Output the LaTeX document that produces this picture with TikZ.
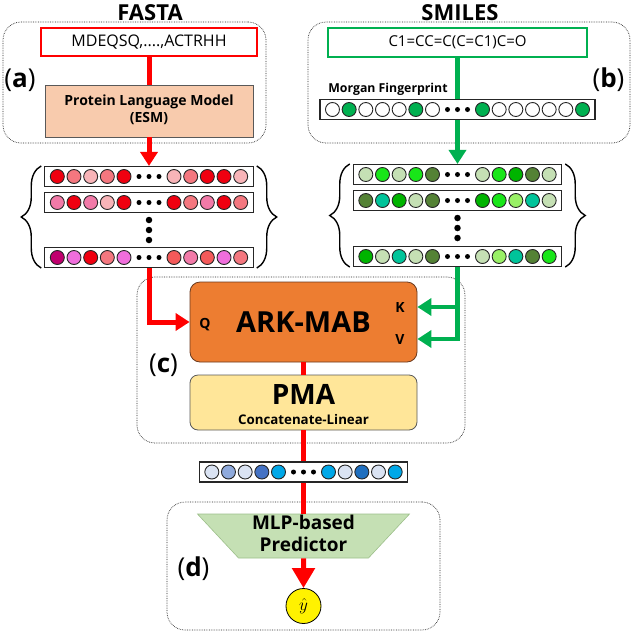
\documentclass[tikz,border=0pt]{standalone}
\usepackage{fontspec}
\setmainfont{Open Sans}
\usepackage{tikz}
\usetikzlibrary{arrows.meta,calc,positioning,shapes.geometric,decorations.pathreplacing}

% colours
\definecolor{arkred}{HTML}{FF0000}
\definecolor{arkgreen}{HTML}{00B050}
\definecolor{plmfill}{HTML}{F8CBAD}
\definecolor{mabfill}{HTML}{ED7D31}
\definecolor{mabedge}{HTML}{6B3A1E}
\definecolor{pmafill}{HTML}{FFE699}
\definecolor{mlpfill}{HTML}{C5E0B4}
\definecolor{mlpedge}{HTML}{9DBF8A}
\definecolor{redA}{HTML}{F00010}
\definecolor{redB}{HTML}{F4777F}
\definecolor{redC}{HTML}{F8B4B8}
\definecolor{redD}{HTML}{F27AA8}
\definecolor{redE}{HTML}{C0006E}
\definecolor{redF}{HTML}{F06EDC}
\definecolor{redG}{HTML}{F45A5A}
\definecolor{grnA}{HTML}{C5E0B4}
\definecolor{grnB}{HTML}{19E619}
\definecolor{grnC}{HTML}{548235}
\definecolor{grnD}{HTML}{00C49A}
\definecolor{grnE}{HTML}{00B400}
\definecolor{grnF}{HTML}{99F066}
\definecolor{fpgrn}{HTML}{00B050}
\definecolor{bluA}{HTML}{DAE3F3}
\definecolor{bluB}{HTML}{8FAADC}
\definecolor{bluC}{HTML}{4472C4}
\definecolor{bluD}{HTML}{00A8E8}
\definecolor{bluE}{HTML}{1F6FBF}

\tikzset{
  groupbox/.style={draw=black!85, densely dotted, line width=.7pt, rounded corners=18pt},
  title/.style={font=\fontsize{22}{26}\selectfont\bfseries},
  tag/.style={font=\fontsize{26}{30}\selectfont},
  port/.style={font=\fontsize{14}{16}\selectfont\bfseries},
  seqbox/.style={draw, line width=2.5pt, fill=white, inner sep=0pt,
    font=\fontsize{16}{19}\selectfont},
  plmbox/.style={fill=plmfill, draw=black!65, line width=.8pt, inner sep=0pt,
    minimum width=208pt, minimum height=52pt, font=\fontsize{14}{17}\selectfont\bfseries},
  mabbox/.style={rounded corners=10pt, fill=mabfill, draw=mabedge, line width=.8pt,
    minimum width=227pt, minimum height=80pt, font=\fontsize{29}{32}\selectfont\bfseries},
  pmabox/.style={rounded corners=8pt, fill=pmafill, draw=black!65, line width=.8pt,
    minimum width=227pt, minimum height=55pt},
  mlpbox/.style={trapezium, trapezium angle=47, shape border rotate=180,
    trapezium stretches body, minimum width=212pt, minimum height=44pt, inner sep=0pt,
    fill=mlpfill, draw=mlpedge, line width=.6pt, font=\fontsize{19}{22}\selectfont\bfseries},
  vecbox/.style={draw=black!85, line width=1.1pt, fill=white, minimum height=20pt, inner sep=0pt},
  cell/.style={circle, draw=black!85, line width=0.9pt, minimum size=14pt, inner sep=0pt},
  hdot/.style={circle, fill=black, minimum size=5pt, inner sep=0pt},
  vdot/.style={circle, fill=black, minimum size=6.5pt, inner sep=0pt},
  curly/.style={decorate, decoration={brace, amplitude=20pt}, line width=1.4pt},
  redline/.style={draw=arkred, line width=5pt},
  redarrow/.style={redline, ->},
  greenline/.style={draw=arkgreen, line width=4.5pt},
  greenarrow/.style={greenline, ->},
  bigarrow/.style={redline, -{Triangle[width=22pt,length=20pt]}},
}

% one embedding vector: name, centre, circles per side, left colours, right colours
\newcommand{\vecrow}[5]{%
  \pgfmathsetmacro{\roww}{75+33.34*(#3-1)}
  \node[vecbox, minimum width=\roww pt] (#1) at #2 {};
  \foreach \clr [count=\idx] in {#4}
    \node[cell, fill=\clr] (#1_L\idx) at ($(#1.center)+({-25-16.67*(#3-\idx)},0)$) {};
  \foreach \clr [count=\idx] in {#5}
    \node[cell, fill=\clr] (#1_R\idx) at ($(#1.center)+({25+16.67*(\idx-1)},0)$) {};
  \foreach \dx [count=\idx] in {-10,0,10}
    \node[hdot] (#1_D\idx) at ($(#1.center)+(\dx,0)$) {};
}

\begin{document}
\begin{tikzpicture}[x=1pt, y=-1pt, line join=miter,
    >={Triangle[width=17pt,length=14pt]}]
  \useasboundingbox (0,0) rectangle (633,633);

  % GROUP FRAMES
  \node[groupbox, minimum width=263pt, minimum height=121pt] (BOX_A) at (134.5,82.5) {};
  \node[groupbox, minimum width=322pt, minimum height=121pt] (BOX_B) at (469,82.5) {};
  \node[groupbox, minimum width=328pt, minimum height=166pt] (BOX_C) at (301,360) {};
  \node[groupbox, minimum width=273pt, minimum height=128pt] (BOX_D) at (303.5,566) {};

  \node[tag] (TAG_A) at (20,80) {(\textbf{a})};
  \node[tag] (TAG_B) at (608.5,80) {(\textbf{b})};
  \node[tag] (TAG_C) at (163.5,365) {(\textbf{c})};
  \node[tag] (TAG_D) at (193.5,569) {(\textbf{d})};

  % PROTEIN SIDE
  \node[title] (FASTA) at (150,13) {FASTA};
  \node[seqbox, draw=arkred, minimum width=216pt, minimum height=28pt] (FASTA_SEQ)
    at (149,42) {MDEQSQ,....,ACTRHH};
  \node[plmbox, below of=FASTA_SEQ, node distance=69pt] (PLM)
  {
    \begin{tabular}{c}
      Protein Language Model \\
      (ESM)
    \end{tabular}
  };

  \vecrow{RED_ROW_1}{(149,176.5)}{5}{redA,redB,redC,redB,redA}{redC,redB,redA,redA,redC}
  \vecrow{RED_ROW_2}{(149,202.5)}{5}{redD,redA,redD,redC,redA}{redA,redB,redD,redA,redB}
  \vecrow{RED_ROW_3}{(149,257.5)}{5}{redE,redF,redA,redB,redF}{redG,redD,redG,redF,redB}
  \foreach \vy [count=\i] in {220,230,240}
    \node[vdot] (RED_VD_\i) at (149,\vy) {};
  \draw[curly] ([xshift=-3pt]RED_ROW_3.south west) -- ([xshift=-3pt]RED_ROW_1.north west);
  \draw[curly] ([xshift=3pt]RED_ROW_1.north east) -- ([xshift=3pt]RED_ROW_3.south east);

  % COMPOUND SIDE
  \node[title] (SMILES) at (460,13) {SMILES};
  \node[seqbox, draw=arkgreen, minimum width=259pt, minimum height=29pt,
    font=\fontsize{15}{18}\selectfont] (SMILES_SEQ) at (457.5,42.5) {C1=CC=C(C=C1)C=O};
  \node[font=\fontsize{12.3}{15}\selectfont\bfseries] (MORGAN) at (388,89) {Morgan Fingerprint};
  \vecrow{FP_ROW}{(457.5,109.5)}{7}{white,fpgrn,white,white,white,fpgrn,white}{fpgrn,white,white,white,white,white,fpgrn}

  \vecrow{GREEN_ROW_1}{(457.5,174.5)}{5}{grnA,grnB,grnA,grnB,grnC}{grnA,grnB,grnE,grnC,grnA}
  \vecrow{GREEN_ROW_2}{(457.5,200.5)}{5}{grnC,grnD,grnE,grnA,grnC}{grnE,grnB,grnF,grnD,grnA}
  \vecrow{GREEN_ROW_3}{(457.5,256.5)}{5}{grnE,grnA,grnD,grnA,grnC}{grnA,grnF,grnD,grnC,grnB}
  \foreach \vy [count=\i] in {218,228,238}
    \node[vdot] (GREEN_VD_\i) at (457.5,\vy) {};
  \draw[curly] ([xshift=-3pt]GREEN_ROW_3.south west) -- ([xshift=-3pt]GREEN_ROW_1.north west);
  \draw[curly] ([xshift=3pt]GREEN_ROW_1.north east) -- ([xshift=3pt]GREEN_ROW_3.south east);

  % ATTENTION AND POOLING
  \node[mabbox] (ARK_MAB) at (303.5,322) {ARK-MAB};
  \node[port] (PORT_Q) at (205,325) {Q};
  \node[port] (PORT_K) at (400,307) {K};
  \node[port] (PORT_V) at (400,339) {V};
  \coordinate (K_IN) at ([yshift=15pt]ARK_MAB.east);
  \coordinate (V_IN) at ([yshift=-17pt]ARK_MAB.east);

  \node[pmabox, below of=ARK_MAB, node distance=80.5pt] (PMA) {};
  \node[font=\fontsize{13.3}{15}\selectfont\bfseries] (PMA_TEXT) at (303.5,407)
  {
    \begin{tabular}{c}
      {\fontsize{28}{30}\selectfont PMA} \\[5pt]
      Concatenate-Linear
    \end{tabular}
  };

  % PREDICTION
  \vecrow{BLUE_ROW}{(303.5,472)}{5}{bluA,bluB,bluA,bluC,bluD}{bluD,bluA,bluE,bluA,bluD}
  \node[mlpbox] (MLP) at (303.5,536)
  {
    \begin{tabular}{c}
      MLP-based \\
      Predictor
    \end{tabular}
  };
  \node[circle, fill=yellow, draw, line width=.8pt, minimum size=35pt, inner sep=0pt,
    font=\fontsize{18}{20}\selectfont, below of=MLP, node distance=70pt] (Y_HAT) {\(\hat{y}\)};

  % LINES
  \draw[redline] (FASTA_SEQ) -- (PLM);
  \draw[redarrow] (PLM) -- (RED_ROW_1);
  \draw[redarrow] (RED_ROW_3) |- (ARK_MAB);
  \draw[greenline] (SMILES_SEQ) -- (FP_ROW);
  \draw[greenarrow] (FP_ROW) -- (GREEN_ROW_1);
  \draw[greenarrow] (GREEN_ROW_3) |- (V_IN);
  \draw[greenarrow] (GREEN_ROW_3.south |- K_IN) -- (K_IN);
  \draw[redline] (ARK_MAB) -- (PMA);
  \draw[redline] (PMA) -- (BLUE_ROW);
  \draw[redline] (BLUE_ROW) -- (MLP);
  \draw[bigarrow] (MLP) -- (Y_HAT);
\end{tikzpicture}
\end{document}
